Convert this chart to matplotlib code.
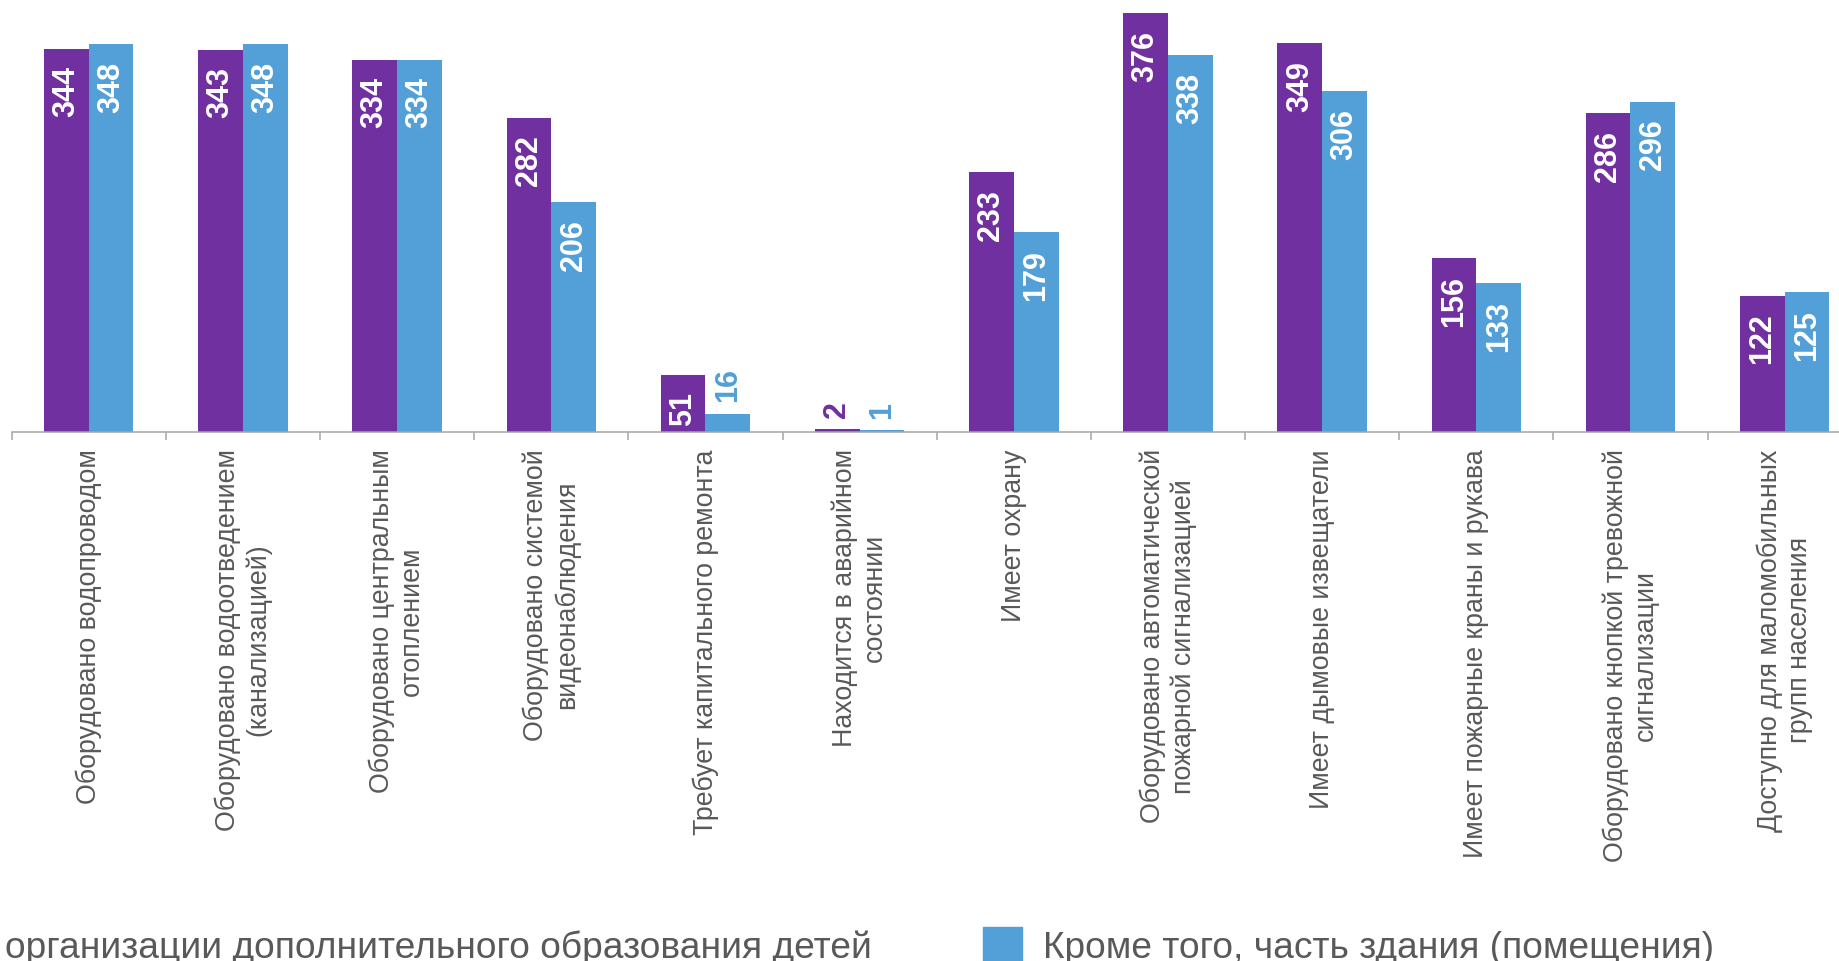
import numpy as np
import matplotlib
matplotlib.use("Agg")
import matplotlib.pyplot as plt
from matplotlib.patches import Patch

plt.rcParams["font.family"] = ["Liberation Sans", "DejaVu Sans"]

categories = [
    "Оборудовано водопроводом",
    "Оборудовано водоотведением\n(канализацией)",
    "Оборудовано центральным\nотоплением",
    "Оборудовано системой\nвидеонаблюдения",
    "Требует капитального ремонта",
    "Находится в аварийном\nсостоянии",
    "Имеет охрану",
    "Оборудовано автоматической\nпожарной сигнализацией",
    "Имеет дымовые извещатели",
    "Имеет пожарные краны и рукава",
    "Оборудовано кнопкой тревожной\nсигнализации",
    "Доступно для маломобильных\nгрупп населения",
]
separate_building = [344, 343, 334, 282, 51, 2, 233, 376, 349, 156, 286, 122]
part_of_building = [348, 348, 334, 206, 16, 1, 179, 338, 306, 133, 296, 125]
series_names = [
    "организации дополнительного образования детей",
    "Кроме того, часть здания (помещения)",
]

PURPLE = "#7030A0"
BLUE = "#539FD7"
GREY_TEXT = "#595959"
AXIS_GREY = "#A6A6A6"

fig = plt.figure(figsize=(18.39, 9.62), dpi=100)
ax = fig.add_axes([0.00636, 0.5504, 1.006, 0.4496])

x = np.arange(len(categories)) + 0.5
w = 0.29
b1 = ax.bar(x - w / 2, separate_building, w, color=PURPLE)
b2 = ax.bar(x + w / 2, part_of_building, w, color=BLUE)

# value labels: inside the bar in white, above it in the bar colour when the bar is too short
for bars, vals, col in [(b1, separate_building, PURPLE), (b2, part_of_building, BLUE)]:
    for rect, v in zip(bars, vals):
        cx = rect.get_x() + rect.get_width() / 2
        if v >= 40:
            ax.annotate(str(v), (cx, v), xytext=(0, -12), textcoords="offset points",
                        rotation=90, ha="center", va="top", color="white",
                        fontsize=22, fontweight="bold")
        else:
            ax.annotate(str(v), (cx, v), xytext=(0, 9), textcoords="offset points",
                        rotation=90, ha="center", va="bottom", color=col,
                        fontsize=22, fontweight="bold")

ax.set_xlim(0, len(categories))
ax.set_ylim(0, 388.6)

ax.set_xticks(np.arange(len(categories) + 1))
ax.set_xticklabels([])
ax.set_xticks(x, minor=True)
ax.set_xticklabels(categories, minor=True, rotation=90, ha="center", va="top",
                   multialignment="center", fontsize=19.3, color=GREY_TEXT)
ax.tick_params(axis="x", which="major", length=6, width=1.1, color=AXIS_GREY, direction="out")
ax.tick_params(axis="x", which="minor", length=0, pad=12)
ax.set_yticks([])

for s in ["top", "right", "left"]:
    ax.spines[s].set_visible(False)
ax.spines["bottom"].set_color(AXIS_GREY)
ax.spines["bottom"].set_linewidth(1.1)

handles = [Patch(color=PURPLE), Patch(color=BLUE)]
fig.legend(handles, series_names, loc="upper left", bbox_to_anchor=(-54 / 1839, 1 - 928 / 962),
           ncol=2, frameon=False, fontsize=26.7, handlelength=1.04, handleheight=1.04,
           handletextpad=0.56, columnspacing=3.0, borderpad=0, borderaxespad=0,
           labelcolor=GREY_TEXT)

fig.savefig("out.png", dpi=100)
